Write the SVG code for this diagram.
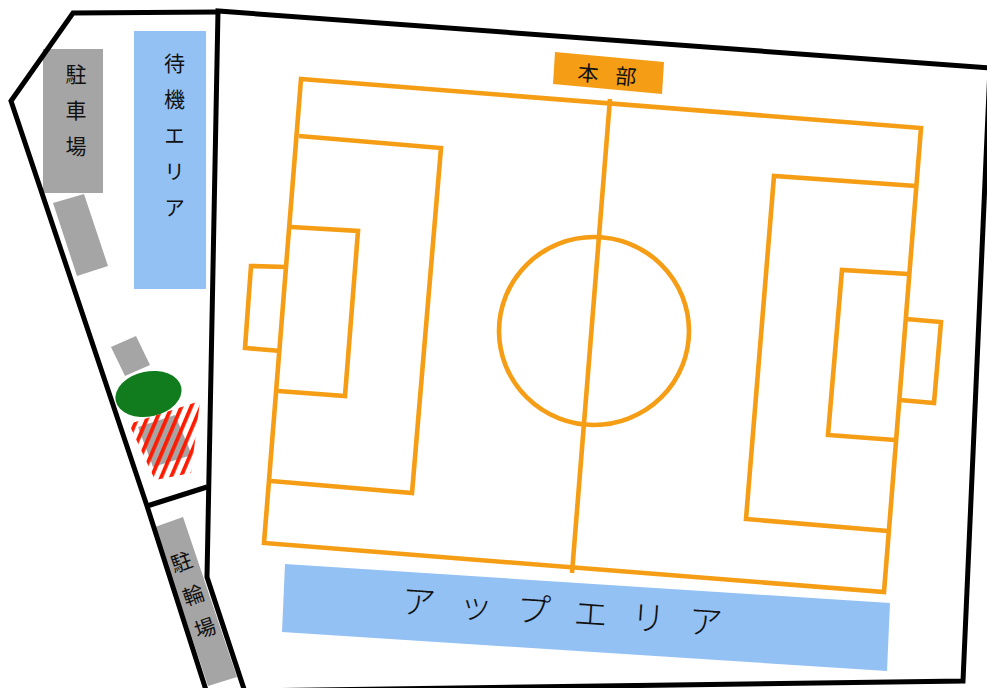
<svg xmlns="http://www.w3.org/2000/svg" width="987" height="688" viewBox="0 0 987 688">
<style>
.wall{fill:none;stroke:#000;stroke-width:5;stroke-linejoin:miter}
.line{fill:none;stroke:#f59d14;stroke-width:4.600;stroke-linejoin:miter}
.gray{fill:#a5a5a5}
.blue{fill:#93c1f3}
.jp{font-family:"Noto Sans CJK JP","Noto Sans CJK SC",sans-serif;fill:#111;font-size:21px}
.vert{writing-mode:vertical-rl;letter-spacing:15px}
</style>
<defs>
<pattern id="hatch" width="9" height="10" patternUnits="userSpaceOnUse" patternTransform="rotate(23)">
<rect width="3.800" height="10" fill="#ff1a00"/>
</pattern>
</defs>
<rect width="987" height="688" fill="#fff"/>
<g id="waiting-area"><rect class="blue" x="134" y="31" width="72" height="258"/><text class="jp vert" x="174.500" y="53">待機エリア</text></g>
<g id="car-park"><rect class="gray" x="43" y="49" width="60" height="144"/><text class="jp vert" x="76" y="64">駐車場</text></g>
<g id="car-park-2"><polygon class="gray" points="53,203 84,194 108,266 77,276"/></g>
<g id="small-box"><polygon class="gray" points="111,347 136,336 150,365 125,376"/></g>
<g id="hatched-area">
<polygon class="gray" points="138,427 175,415 192,455 153,467"/>
<polygon fill="url(#hatch)" points="129,424 200,401 191,473 155,480"/>
</g>
<g id="tree"><ellipse cx="148.500" cy="394" rx="33.500" ry="22.500" transform="rotate(-12 148.500 394)" fill="#107c1e"/></g>
<g id="bike-park"><polygon class="gray" points="155,527 183,517 237,677 208,686"/><text class="jp vert" transform="translate(178,552) rotate(-19.500)" style="letter-spacing:14px">駐輪場</text></g>
<g id="walls">
<polyline class="wall" points="218,12 73,13 11,101 147,506 206,690"/>
<line class="wall" x1="147" y1="506" x2="207" y2="487"/>
<polyline class="wall" points="990,68 218,11 207,577 245,692"/>
<polyline class="wall" points="990,68 963,681 245,691"/>
</g>
<g id="field">
<polygon class="line" points="301,79 921,128 884,592 264,543"/>
<line class="line" x1="610" y1="99" x2="572" y2="573"/>
<ellipse class="line" cx="594" cy="331" rx="95" ry="94"/>
<polyline class="line" points="299,136 441,148 412,493 271,481"/>
<polyline class="line" points="291,227 358,231 345,396 278,391"/>
<polyline class="line" points="287,267 251,266 245,348 281,351"/>
<polyline class="line" points="916,186 774,176 746,519 888,531"/>
<polyline class="line" points="908,274 842,270 828,435 895,440"/>
<polyline class="line" points="906,319 941,322 934,403 900,400"/>
</g>
<g id="headquarters"><polygon points="555,52 664,62 662,94 553,84" fill="#f59d14"/><text class="jp" transform="translate(577,80) rotate(5)" style="letter-spacing:17px">本部</text></g>
<g id="warm-up-area"><polygon class="blue" points="285,564 890,603 887,671 282,632"/><text class="jp" transform="translate(401,613) rotate(4)" style="font-size:34px;font-weight:300;letter-spacing:23.500px">アップエリア</text></g>
</svg>
